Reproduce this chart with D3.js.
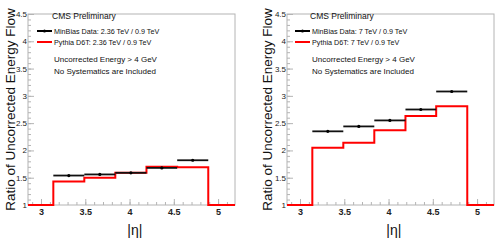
<!DOCTYPE html>
<html>
<head>
<meta charset="utf-8">
<script src="https://cdn.jsdelivr.net/npm/d3@7"></script>
<style>
  body { margin: 0; background: #fff; }
  svg { display: block; font-family: "Liberation Sans", Arial, sans-serif; }
</style>
</head>
<body>
<svg id="chart" width="498" height="242"></svg>
<script>
// Data: HF eta bin edges and ratios
var binEdges = [3.139, 3.489, 3.839, 4.191, 4.538, 4.889];
var xDomain = [2.853, 5.191];
var yDomain = [1, 4.5];

var leftData = [1.54, 1.56, 1.59, 1.68, 1.82];
var leftMC = [1.43, 1.50, 1.59, 1.70, 1.69];
var rightData = [2.35, 2.44, 2.55, 2.75, 3.08];
var rightMC = [2.05, 2.14, 2.37, 2.63, 2.81];

var xTickLabels = [3, 3.5, 4, 4.5, 5];
var yTickLabels = [1, 1.5, 2, 2.5, 3, 3.5, 4, 4.5];

var panels = [
  {x0: 28, data: leftData, mc: leftMC,
   dataLabel: "MinBias Data: 2.36 TeV / 0.9 TeV",
   mcLabel: "Pythia D6T: 2.36 TeV / 0.9 TeV", legX: 37, textX: 54, titleX: 10},
  {x0: 287, data: rightData, mc: rightMC,
   dataLabel: "MinBias Data: 7 TeV / 0.9 TeV",
   mcLabel: "Pythia D6T: 7 TeV / 0.9 TeV", legX: 295, textX: 312, titleX: 267}
];

var plotWidth = 207, plotTop = 14, plotBottom = 205;
var svg = d3.select("#chart");
var frameColor = "#b4b4b4";

function drawPanel(p) {
  var g = svg.append("g");
  var xscale = d3.scaleLinear().domain(xDomain).range([p.x0, p.x0 + plotWidth]);
  var yscale = d3.scaleLinear().domain(yDomain).range([plotBottom, plotTop]);

  // frame
  g.append("rect")
    .attr("x", p.x0).attr("y", plotTop)
    .attr("width", plotWidth).attr("height", plotBottom - plotTop)
    .attr("fill", "none").attr("stroke", frameColor).attr("stroke-width", 1);

  // minor ticks (inward)
  var xMinor = d3.range(2.9, 5.2, 0.1).filter(function(v) { return v > xDomain[0] && v < xDomain[1]; });
  var yMinor = d3.range(1.1, 4.5, 0.1);
  g.append("g").attr("transform", "translate(0," + plotBottom + ")")
    .call(d3.axisBottom(xscale).tickValues(xMinor).tickSize(-3).tickFormat(""))
    .call(function(a) { a.select(".domain").remove(); a.selectAll("line").attr("stroke", frameColor); });
  g.append("g").attr("transform", "translate(" + p.x0 + ",0)")
    .call(d3.axisLeft(yscale).tickValues(yMinor).tickSize(-3).tickFormat(""))
    .call(function(a) { a.select(".domain").remove(); a.selectAll("line").attr("stroke", frameColor); });

  // major ticks + labels
  var xAxis = g.append("g").attr("transform", "translate(0," + plotBottom + ")")
    .call(d3.axisBottom(xscale).tickValues(xTickLabels).tickSize(-6).tickPadding(4).tickFormat(d3.format("")));
  xAxis.select(".domain").remove();
  xAxis.selectAll("line").attr("stroke", frameColor);
  xAxis.selectAll("text").attr("font-size", 9).attr("font-weight", "bold")
    .attr("fill", "#222").attr("font-family", "Liberation Sans, Arial, sans-serif");

  var yAxis = g.append("g").attr("transform", "translate(" + p.x0 + ",0)")
    .call(d3.axisLeft(yscale).tickValues(yTickLabels).tickSize(-6).tickPadding(1).tickFormat(d3.format("")));
  yAxis.select(".domain").remove();
  yAxis.selectAll("line").attr("stroke", frameColor);
  yAxis.selectAll("text").attr("font-size", 8).attr("fill", "#222")
    .attr("font-family", "Liberation Sans, Arial, sans-serif");

  // axis titles
  g.append("text")
    .attr("transform", "translate(" + p.titleX + "," + ((plotTop + plotBottom) / 2) + ") rotate(-90)")
    .attr("text-anchor", "middle").attr("dy", "0.35em")
    .attr("font-size", 13.5).attr("fill", "#111")
    .text("Ratio of Uncorrected Energy Flow");
  g.append("text")
    .attr("x", xscale(4.06)).attr("y", 235)
    .attr("text-anchor", "middle")
    .attr("font-size", 14).attr("fill", "#111")
    .text("|\u03b7|");

  // MC histogram as a step line
  var pts = [[xDomain[0], 1], [binEdges[0], 1]];
  p.mc.forEach(function(v, i) {
    pts.push([binEdges[i], v]);
    pts.push([binEdges[i + 1], v]);
  });
  pts.push([binEdges[binEdges.length - 1], 1]);
  pts.push([xDomain[1], 1]);
  g.append("path")
    .datum(pts)
    .attr("fill", "none")
    .attr("stroke", "#f00")
    .attr("stroke-width", 2)
    .attr("d", d3.line()
      .x(function(d) { return xscale(d[0]); })
      .y(function(d) { return yscale(d[1]); }));

  // data points with horizontal bin-width error bars
  var pointData = p.data.map(function(v, i) {
    return {lo: binEdges[i], hi: binEdges[i + 1], v: v};
  });
  g.selectAll(".err").data(pointData).enter().append("line")
    .attr("x1", function(d) { return xscale(d.lo); })
    .attr("x2", function(d) { return xscale(d.hi); })
    .attr("y1", function(d) { return yscale(d.v); })
    .attr("y2", function(d) { return yscale(d.v); })
    .attr("stroke", "#111").attr("stroke-width", 1.8);
  g.selectAll(".pt").data(pointData).enter().append("circle")
    .attr("cx", function(d) { return xscale((d.lo + d.hi) / 2); })
    .attr("cy", function(d) { return yscale(d.v); })
    .attr("r", 1.6).attr("fill", "#000");

  // legend / labels
  g.append("text").attr("x", p.textX - 2).attr("y", 19)
    .attr("font-size", 8.5).attr("fill", "#111").text("CMS Preliminary");
  g.append("line").attr("x1", p.legX).attr("x2", p.legX + 15)
    .attr("y1", 31).attr("y2", 31).attr("stroke", "#000").attr("stroke-width", 2);
  g.append("circle").attr("cx", p.legX + 7.5).attr("cy", 31).attr("r", 1.5).attr("fill", "#000");
  g.append("text").attr("x", p.textX).attr("y", 34)
    .attr("font-size", 7.2).attr("fill", "#111").text(p.dataLabel);
  g.append("line").attr("x1", p.legX).attr("x2", p.legX + 15)
    .attr("y1", 42).attr("y2", 42).attr("stroke", "#f00").attr("stroke-width", 2);
  g.append("text").attr("x", p.textX).attr("y", 45)
    .attr("font-size", 7.2).attr("fill", "#111").text(p.mcLabel);
  g.append("text").attr("x", p.textX).attr("y", 62)
    .attr("font-size", 8).attr("fill", "#111").text("Uncorrected Energy > 4 GeV");
  g.append("text").attr("x", p.textX).attr("y", 74)
    .attr("font-size", 8).attr("fill", "#111").text("No Systematics are Included");
}

panels.forEach(drawPanel);
</script>
</body>
</html>
